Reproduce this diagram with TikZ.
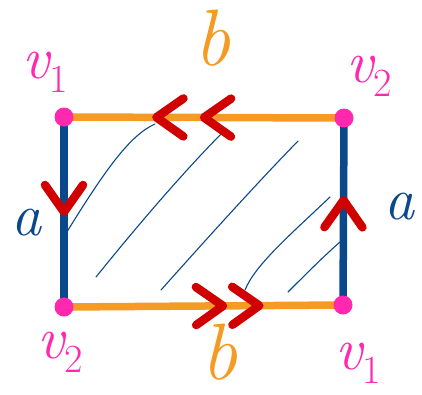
\documentclass[tikz,border=0pt]{standalone}
\usepackage{tikz}
\usetikzlibrary{decorations.markings}
\definecolor{myorange}{RGB}{245,154,35}
\definecolor{myblue}{RGB}{10,72,140}
\definecolor{mypink}{RGB}{255,40,175}
\definecolor{myred}{RGB}{208,0,0}
\tikzstyle{vertex} = [circle, fill=mypink, inner sep=0pt, minimum size=19pt]
\tikzstyle{chev} = [myred, line width=8.5pt, line cap=round, line join=round]
\tikzstyle{lbl} = [inner sep=0pt, font=\fontsize{60}{60}\selectfont\itshape]
\newcommand{\vlab}[1]{v\raisebox{-14pt}{\upshape\fontsize{40}{40}\selectfont #1}}

\begin{document}
\begin{tikzpicture}[x=1pt, y=-1pt,
    bedge/.style={myorange, line width=7.5pt},
    aedge/.style={myblue, line width=7.5pt},
    hatch/.style={myblue, line width=1.1pt, line cap=round},
    chevat/.style={postaction={decorate, decoration={markings,
        mark=at position #1 with {\draw[chev] (-27,19) -- (0,0) -- (-27,-19);}}}}]
    \useasboundingbox (0,0) rectangle (422,394);
    % corners of the square
    \coordinate (tl) at (64,117);
    \coordinate (tr) at (344,118);
    \coordinate (bl) at (64,307);
    \coordinate (br) at (343,305);
    % hatching
    \draw[hatch] (65,235) .. controls (105,170) and (130,135) .. (155,124);
    \draw[hatch] (96,277) .. controls (150,210) and (195,160) .. (225,130);
    \draw[hatch] (161,290) .. controls (210,235) and (260,180) .. (298,141);
    \draw[hatch] (245,290) .. controls (255,265) and (290,235) .. (330,197);
    \draw[hatch] (288,292) .. controls (305,275) and (325,255) .. (340,242);
    % edges with their arrows
    \draw[bedge, chevat=0.67, chevat=0.50] (tr) -- (tl);
    \draw[bedge, chevat=0.57, chevat=0.70] (bl) -- (br);
    \draw[aedge, chevat=0.50] (tl) -- (bl);
    \draw[aedge, chevat=0.56] (br) -- (tr);
    \foreach \c in {tl, tr, bl, br}
        \node[vertex] (dot-\c) at (\c) {};
    % labels
    \node[lbl, text=mypink] (v1a) at (45,72) {\vlab{1}};
    \node[lbl, text=mypink] (v2a) at (369,76) {\vlab{2}};
    \node[lbl, text=mypink] (v2b) at (60,352) {\vlab{2}};
    \node[lbl, text=mypink] (v1b) at (358,363) {\vlab{1}};
    \node[lbl, text=myorange, font=\fontsize{80}{80}\selectfont\itshape] (bt) at (212,38) {b};
    \node[lbl, text=myorange, font=\fontsize{80}{80}\selectfont\itshape] (bb) at (219,352) {b};
    \node[lbl, text=myblue] (al) at (26,223) {a};
    \node[lbl, text=myblue] (ar) at (399,207) {a};
\end{tikzpicture}
\end{document}
